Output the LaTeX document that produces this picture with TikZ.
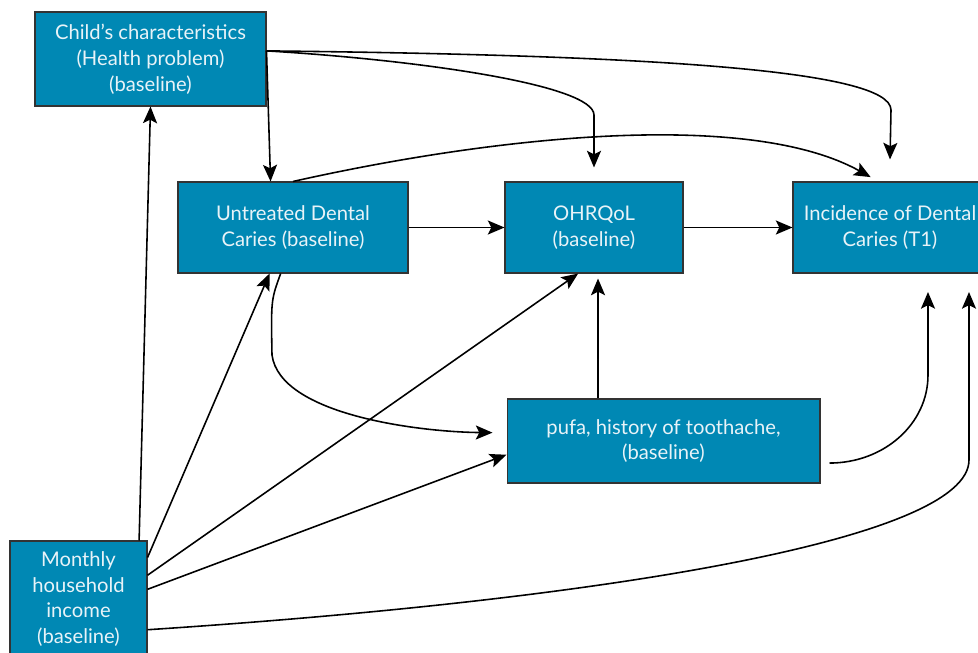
\documentclass[tikz,border=0pt]{standalone}
\usepackage{fontspec}
\setmainfont{Lato}
\usetikzlibrary{arrows.meta}
\definecolor{boxblue}{RGB}{0,136,180}
\definecolor{boxtext}{RGB}{232,243,248}
\begin{document}
\begin{tikzpicture}[x=0.02cm, y=-0.02cm,
        box/.style = {draw=black!80, line width=0.6pt, fill=boxblue, text=boxtext, align=center,
            font=\fontsize{11.5}{14.7}\selectfont, inner sep=0pt},
        arr/.style = {line width=0.9pt, -{Stealth[length=9.5pt, width=8pt, inset=2pt]}}]
    \useasboundingbox (0,0) rectangle (978,653);
    \node[box, minimum width=4.62cm, minimum height=1.88cm] (child) at (150.5,59) {Child’s characteristics\\(Health problem)\\(baseline)};
    \node[box, minimum width=4.6cm, minimum height=1.82cm] (caries) at (293,227.5) {Untreated Dental\\Caries (baseline)};
    \node[box, minimum width=3.56cm, minimum height=1.82cm] (qol) at (594,227.5) {OHRQoL\\(baseline)};
    \node[box, minimum width=3.88cm, minimum height=1.82cm] (inc) at (890,227.5) {Incidence of Dental\\Caries (T1)};
    \node[box, minimum width=6.26cm, minimum height=1.68cm] (pufa) at (663.5,441) {pufa, history of toothache,\\(baseline)};
    \node[box, minimum width=2.74cm, minimum height=2.32cm] (income) at (78.5,599) {Monthly\\household\\income\\(baseline)};
    \coordinate (incA) at (928,292);
    \coordinate (incB) at (969,292);

    \draw[arr] (income.44) -- (child.south);
    \draw[arr] (income.31) -- (caries.-117);
    \draw[arr] (income.19) -- (qol.-109);
    \draw[arr] (income.8) -- (pufa.185);
    \draw[arr] (income.-24) .. controls (600,600) and (969,540) .. (969,460) -- (incB);

    \draw[arr] (child.4) -- (caries.116);
    \draw[arr] (child.4) .. controls (420,60) and (594,85) .. (594,115) -- ([yshift=0.28cm]qol.north);
    \draw[arr] (child.4) .. controls (650,55) and (891,70) .. (891,110) -- ([yshift=0.44cm]inc.north);

    \draw[arr, shorten >=0.18cm] (caries.north) .. controls (500,135) and (750,110) .. (inc.104);
    \draw[arr] (caries.east) -- (qol.west);
    \draw[arr] (qol.east) -- (inc.west);
    \draw[arr, shorten >=0.28cm] (caries.-105) .. controls (271,300) .. (272,355) .. controls (280,415) and (420,432) .. (pufa.177);

    \draw[arr, shorten >=0.1cm] (pufa.147) -- (pufa.147 |- qol.south);
    \draw[arr, shorten <=0.18cm] (pufa.-8) .. controls (884,463) and (928,424) .. (928,375) -- (incA);
\end{tikzpicture}
\end{document}
